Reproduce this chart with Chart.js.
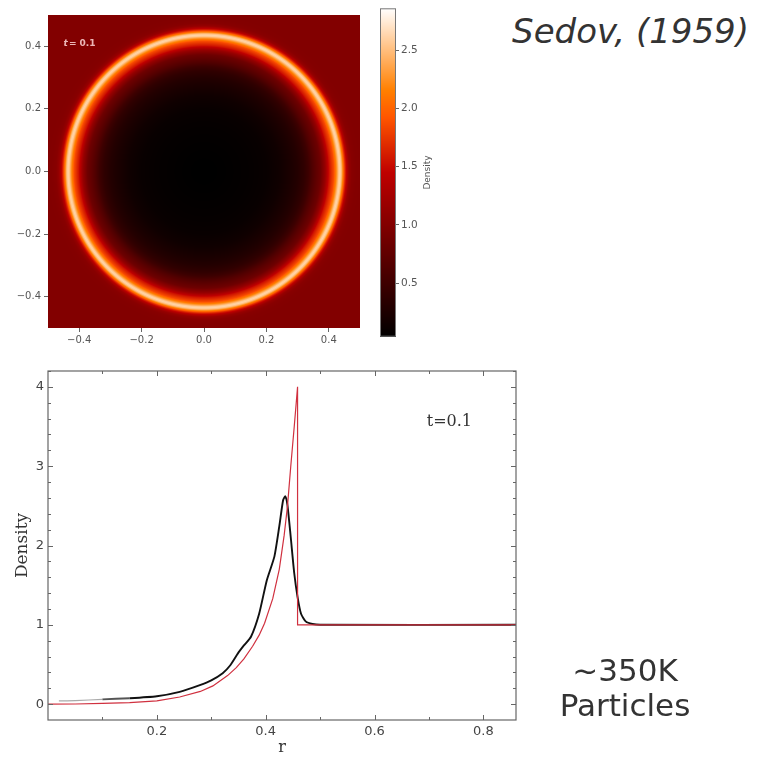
<!DOCTYPE html>
<html>
<head>
<meta charset="utf-8">
<script src="https://cdn.jsdelivr.net/npm/chart.js@4.4.1/dist/chart.umd.min.js"></script>
<style>
  body { margin: 0; background: #fff; width: 759px; height: 757px; position: relative; overflow: hidden; font-family: "DejaVu Sans", sans-serif; }
  .box { position: absolute; }
  #cite { position: absolute; right: 10px; top: 14px; font-size: 34px; line-height: 34px; font-style: italic; color: #333; white-space: nowrap; }
  #count { position: absolute; left: 525px; width: 200px; top: 653px; font-size: 31px; line-height: 35px; text-align: center; color: #333; }
</style>
</head>
<body>
<div class="box" style="left:0;top:0"><canvas id="mapChart" width="370" height="345"></canvas></div>
<div class="box" style="left:370px;top:0"><canvas id="barChart" width="75" height="345"></canvas></div>
<div class="box" style="left:0;top:355px"><canvas id="profileChart" width="530" height="402"></canvas></div>
<div id="cite">Sedov, (1959)</div>
<div id="count">~350K<br>Particles</div>

<script>
// simulation (black) radial density profile
var simR   = [0.02, 0.05, 0.10, 0.15, 0.20, 0.242, 0.279, 0.30, 0.321, 0.335, 0.349, 0.36, 0.373, 0.388, 0.402, 0.416, 0.425, 0.432, 0.436, 0.440, 0.446, 0.4525, 0.4586, 0.465, 0.474, 0.486, 0.50, 0.86];
var simRho = [0.04, 0.045, 0.06, 0.075, 0.10, 0.155, 0.24, 0.30, 0.39, 0.49, 0.64, 0.74, 0.85, 1.14, 1.56, 1.86, 2.24, 2.57, 2.62, 2.51, 2.11, 1.65, 1.35, 1.14, 1.04, 1.01, 1.0, 1.0];

// Sedov analytic solution (red)
var sedovR   = [0.0, 0.05, 0.10, 0.15, 0.20, 0.242, 0.28, 0.303, 0.33, 0.346, 0.36, 0.376, 0.388, 0.398, 0.413, 0.425, 0.434, 0.440, 0.446, 0.4525, 0.4586, 0.4586, 0.86];
var sedovRho = [0.0, 0.002, 0.01, 0.02, 0.04, 0.09, 0.16, 0.23, 0.36, 0.46, 0.57, 0.73, 0.87, 1.02, 1.33, 1.70, 2.13, 2.49, 2.99, 3.50, 4.0, 1.0, 1.0];

var profileXTicks = [0.2, 0.4, 0.6, 0.8];
var profileYTicks = [0, 1, 2, 3, 4];
var mapTicks = [-0.4, -0.2, 0.0, 0.2, 0.4];
var barTicks = [0.5, 1.0, 1.5, 2.0, 2.5];
var densMin = 0.04, densMax = 2.86;

// gist_heat colour map
function heatColor(t) {
  t = Math.max(0, Math.min(1, t));
  var r = Math.min(1, 1.5 * t);
  var g = Math.max(0, Math.min(1, 2 * t - 1));
  var b = Math.max(0, Math.min(1, 4 * t - 3));
  return [Math.round(r * 255), Math.round(g * 255), Math.round(b * 255)];
}

// density at radius r, from the simulated profile
function profileAt(r) {
  if (r <= simR[0]) return simRho[0];
  for (var i = 1; i < simR.length; i++) {
    if (r <= simR[i]) {
      var f = (r - simR[i - 1]) / (simR[i] - simR[i - 1]);
      return simRho[i - 1] + f * (simRho[i] - simRho[i - 1]);
    }
  }
  return simRho[simRho.length - 1];
}

function mapLabel(v) {
  return (v < -1e-9 ? '\u2212' : '') + Math.abs(v).toFixed(1);
}

var heatmapPlugin = {
  id: 'heatmap',
  beforeDatasetsDraw: function (chart) {
    var a = chart.chartArea, xs = chart.scales.x, ys = chart.scales.y;
    var w = Math.round(a.right - a.left), h = Math.round(a.bottom - a.top);
    var off = document.createElement('canvas');
    off.width = w; off.height = h;
    var octx = off.getContext('2d');
    var img = octx.createImageData(w, h);
    for (var j = 0; j < h; j++) {
      var yv = ys.getValueForPixel(a.top + j + 0.5);
      for (var i = 0; i < w; i++) {
        var xv = xs.getValueForPixel(a.left + i + 0.5);
        var rho = profileAt(Math.sqrt(xv * xv + yv * yv));
        var c = heatColor((rho - densMin) / (densMax - densMin));
        var k = (j * w + i) * 4;
        img.data[k] = c[0]; img.data[k + 1] = c[1]; img.data[k + 2] = c[2]; img.data[k + 3] = 255;
      }
    }
    octx.putImageData(img, 0, 0);
    chart.ctx.drawImage(off, a.left, a.top);

    // time label
    var ctx = chart.ctx;
    ctx.save();
    ctx.fillStyle = 'rgba(255,215,215,0.85)';
    ctx.textBaseline = 'middle';
    var px = xs.getPixelForValue(-0.45), py = ys.getPixelForValue(0.41);
    ctx.font = 'italic bold 9px "DejaVu Sans"';
    ctx.fillText('t', px, py);
    px += ctx.measureText('t').width + 1;
    ctx.font = 'bold 9px "DejaVu Sans"';
    ctx.fillText('= 0.1', px, py);
    ctx.restore();
  }
};

var colorbarPlugin = {
  id: 'colorbar',
  beforeDatasetsDraw: function (chart) {
    var a = chart.chartArea, ys = chart.scales.y, ctx = chart.ctx;
    for (var y = Math.floor(a.top); y < a.bottom; y++) {
      var c = heatColor((ys.getValueForPixel(y + 0.5) - densMin) / (densMax - densMin));
      ctx.fillStyle = 'rgb(' + c.join(',') + ')';
      ctx.fillRect(a.left, y, a.right - a.left, 1);
    }
    ctx.save();
    ctx.strokeStyle = '#777';
    ctx.lineWidth = 1;
    ctx.strokeRect(a.left + 0.5, a.top + 0.5, a.right - a.left - 1, a.bottom - a.top - 1);
    ctx.translate(a.right + 32, (a.top + a.bottom) / 2);
    ctx.rotate(-Math.PI / 2);
    ctx.fillStyle = '#555';
    ctx.font = '9px "DejaVu Sans"';
    ctx.textAlign = 'center';
    ctx.textBaseline = 'middle';
    ctx.fillText('Density', 0, 0);
    ctx.restore();
  }
};

var frameTicksPlugin = {
  id: 'frameTicks',
  afterDatasetsDraw: function (chart) {
    var a = chart.chartArea, xs = chart.scales.x, ys = chart.scales.y, ctx = chart.ctx;
    ctx.save();
    ctx.strokeStyle = '#666';
    ctx.lineWidth = 1.2;
    ctx.strokeRect(a.left, a.top, a.right - a.left, a.bottom - a.top);
    ctx.lineWidth = 1;
    ctx.beginPath();
    for (var k = 1; k <= 8; k++) {
      var xv = k / 10, p = Math.round(xs.getPixelForValue(xv)) + 0.5;
      var len = (k % 2 === 0) ? 5 : 3;
      ctx.moveTo(p, a.bottom); ctx.lineTo(p, a.bottom - len);
      ctx.moveTo(p, a.top); ctx.lineTo(p, a.top + len);
    }
    for (var m = -1; m <= 21; m++) {
      var yv = m / 5, q = Math.round(ys.getPixelForValue(yv)) + 0.5;
      if (q < a.top || q > a.bottom) continue;
      var l2 = (m % 5 === 0) ? 5 : 3;
      ctx.moveTo(a.left, q); ctx.lineTo(a.left + l2, q);
      ctx.moveTo(a.right, q); ctx.lineTo(a.right - l2, q);
    }
    ctx.stroke();

    ctx.fillStyle = '#333';
    ctx.font = '16px "DejaVu Serif"';
    ctx.textBaseline = 'alphabetic';
    ctx.fillText('t=0.1', xs.getPixelForValue(0.696), ys.getPixelForValue(3.51));
    ctx.restore();
  }
};

// top: density map
new Chart(document.getElementById('mapChart'), {
  type: 'scatter',
  data: { datasets: [{ data: [] }] },
  options: {
    responsive: false,
    animation: false,
    layout: { padding: { top: 15, right: 10, left: 0, bottom: 0 } },
    plugins: { legend: { display: false }, tooltip: { enabled: false } },
    scales: {
      x: {
        type: 'linear', min: -0.5, max: 0.5,
        afterBuildTicks: function (s) { s.ticks = mapTicks.map(function (v) { return { value: v }; }); },
        afterFit: function (s) { s.height = 17; },
        grid: { drawOnChartArea: false, drawTicks: true, tickLength: 4, color: '#666' },
        border: { display: false },
        ticks: { color: '#555', font: { family: 'DejaVu Sans', size: 10 }, padding: 2, maxRotation: 0, callback: mapLabel }
      },
      y: {
        type: 'linear', min: -0.5, max: 0.5,
        afterBuildTicks: function (s) { s.ticks = mapTicks.map(function (v) { return { value: v }; }); },
        afterFit: function (s) { s.width = 48; },
        grid: { drawOnChartArea: false, drawTicks: true, tickLength: 4, color: '#666' },
        border: { display: false },
        ticks: { color: '#555', font: { family: 'DejaVu Sans', size: 10 }, padding: 3, callback: mapLabel }
      }
    }
  },
  plugins: [heatmapPlugin]
});

// colour bar
new Chart(document.getElementById('barChart'), {
  type: 'scatter',
  data: { datasets: [{ data: [] }] },
  options: {
    responsive: false,
    animation: false,
    layout: { padding: { top: 6, right: 0, left: 10, bottom: 7 } },
    plugins: { legend: { display: false }, tooltip: { enabled: false } },
    scales: {
      x: { type: 'linear', min: 0, max: 1, display: false },
      y: {
        type: 'linear', position: 'right', min: densMin, max: densMax,
        afterBuildTicks: function (s) { s.ticks = barTicks.map(function (v) { return { value: v }; }); },
        afterFit: function (s) { s.width = 49; },
        grid: { drawOnChartArea: false, drawTicks: true, tickLength: 3, color: '#666' },
        border: { display: false },
        ticks: { color: '#555', font: { family: 'DejaVu Sans', size: 10.5 }, padding: 2, callback: function (v) { return v.toFixed(1); } }
      }
    }
  },
  plugins: [colorbarPlugin]
});

// bottom: radial profile (red analytic curve drawn on top)
new Chart(document.getElementById('profileChart'), {
  type: 'scatter',
  data: {
    datasets: [
      {
        label: 'Sedov',
        data: sedovR.map(function (r, i) { return { x: r, y: sedovRho[i] }; }),
        showLine: true, borderColor: '#d0303f', borderWidth: 1.2, pointRadius: 0, tension: 0, fill: false
      },
      {
        label: 'Simulation',
        data: simR.map(function (r, i) { return { x: r, y: simRho[i] }; }),
        showLine: true, borderColor: '#111', borderWidth: 1.9, pointRadius: 0, tension: 0.2, fill: false,
        segment: {
          borderColor: function (c) { return c.p0DataIndex < 2 ? '#aaa' : (c.p0DataIndex < 3 ? '#555' : undefined); },
          borderWidth: function (c) { return c.p0DataIndex < 2 ? 1.2 : undefined; }
        }
      }
    ]
  },
  options: {
    responsive: false,
    animation: false,
    layout: { padding: { top: 16, right: 14, left: 0, bottom: 0 } },
    plugins: { legend: { display: false }, tooltip: { enabled: false } },
    scales: {
      x: {
        type: 'linear', min: 0, max: 0.86,
        afterBuildTicks: function (s) { s.ticks = profileXTicks.map(function (v) { return { value: v }; }); },
        afterFit: function (s) { s.height = 37; },
        grid: { display: false, drawTicks: false },
        border: { display: false },
        ticks: { color: '#444', font: { family: 'DejaVu Sans', size: 13 }, padding: 4, maxRotation: 0, callback: function (v) { return v.toFixed(1); } },
        title: { display: true, text: 'r', color: '#333', font: { family: 'DejaVu Serif', size: 16 }, padding: { top: 0, bottom: 0 } }
      },
      y: {
        type: 'linear', min: -0.2, max: 4.2,
        afterBuildTicks: function (s) { s.ticks = profileYTicks.map(function (v) { return { value: v }; }); },
        afterFit: function (s) { s.width = 48; },
        grid: { display: false, drawTicks: false },
        border: { display: false },
        ticks: { color: '#444', font: { family: 'DejaVu Sans', size: 13 }, padding: 4, callback: function (v) { return String(v); } },
        title: { display: true, text: 'Density', color: '#333', font: { family: 'DejaVu Serif', size: 17 }, padding: { top: 12, bottom: 0 } }
      }
    }
  },
  plugins: [frameTicksPlugin]
});
</script>
</body>
</html>
